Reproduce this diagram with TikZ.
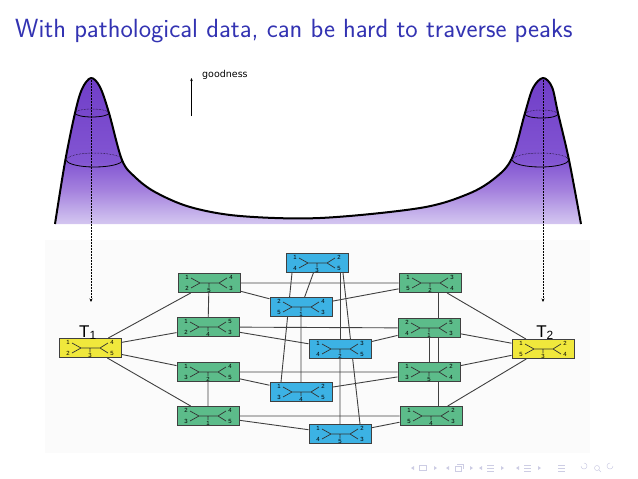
\documentclass[tikz,border=0pt]{standalone}
\usepackage{fontspec}
\newfontfamily\goodfont{DejaVu Sans}
\newfontfamily\treefont{Liberation Sans}
\usetikzlibrary{arrows.meta, backgrounds}

\definecolor{titleblue}{RGB}{51,51,178}
\definecolor{peaktop}{RGB}{112,62,200}
\definecolor{peakmid}{RGB}{130,85,210}
\definecolor{peaklow}{RGB}{165,130,222}
\definecolor{peakfoot}{RGB}{200,182,236}
\definecolor{peakbot}{RGB}{212,198,240}
\definecolor{treegreen}{RGB}{92,188,138}
\definecolor{treeblue}{RGB}{60,178,228}
\definecolor{treeyellow}{RGB}{240,232,60}
\definecolor{navgray}{RGB}{205,205,228}

\pgfdeclareverticalshading{purplehill}{100bp}{color(0bp)=(peakbot); color(25bp)=(peakbot); color(28bp)=(peakfoot); color(36.5bp)=(peaklow); color(46.5bp)=(peakmid); color(75bp)=(peaktop); color(100bp)=(peaktop)}

\tikzset{
  treebox/.style = {rectangle, draw=black!75, line width=1pt, minimum width=62pt, minimum height=19pt, inner sep=0pt},
  link/.style = {draw=black!75, line width=0.9pt},
  leaf/.style = {inner sep=0pt, font=\treefont\fontsize{6}{6}\selectfont},
  tlabel/.style = {inner sep=0pt, font=\treefont\fontsize{17}{17}\selectfont},
  ridge/.style = {line width=2pt, line join=round},
  drop/.style = {densely dotted, line width=0.5pt, -{Stealth[length=3.5pt, width=3pt]}},
}

% little unrooted tree drawn inside a box: box, top left, bottom left, middle, top right, bottom right
\newcommand{\phylo}[6]{%
  \begin{scope}[shift={(#1.center)}]
    \draw[line width=0.7pt, black!80] (-18,-5) -- (-9,0) -- (-18,5) (-9,0) -- (10,0) (18,-5) -- (10,0) -- (18,5) (0,0) -- (0,4);
    \node[leaf] at (-22,-5.5) {#2};
    \node[leaf] at (-22,5.5) {#3};
    \node[leaf] at (0,7) {#4};
    \node[leaf] at (22,-5.5) {#5};
    \node[leaf] at (22,5.5) {#6};
  \end{scope}}

\begin{document}
\begin{tikzpicture}[x=1pt, y=-1pt]
\useasboundingbox (0,0) rectangle (638,479);

\node[anchor=base west, inner sep=0pt, text=titleblue, font=\sffamily\fontsize{26.3}{31}\selectfont] (title) at (15,37) {With pathological data, can be hard to traverse peaks};

% landscape
\draw[ridge, shading=purplehill] plot[smooth, tension=0.55] coordinates {(55,224) (65,162) (75,113) (82,89) (91,78) (100,87) (109,113) (122,160) (135,177) (155,192) (190,207) (240,216) (320,218) (420,208) (468,194) (495,178) (512,158) (525,113) (533,88) (543,78) (552,87) (558,113) (569,160) (581,224)};

\draw[densely dotted, line width=0.5pt] (109,113) arc[start angle=0, end angle=-180, x radius=17, y radius=4];
\draw[line width=0.8pt] (109,113) arc[start angle=0, end angle=180, x radius=17, y radius=4];
\draw[densely dotted, line width=0.5pt] (122.5,160) arc[start angle=0, end angle=-180, x radius=28, y radius=7];
\draw[line width=0.8pt] (122.5,160) arc[start angle=0, end angle=180, x radius=28, y radius=7];
\draw[densely dotted, line width=0.5pt] (558,114) arc[start angle=0, end angle=-180, x radius=16.5, y radius=4];
\draw[line width=0.8pt] (558,114) arc[start angle=0, end angle=180, x radius=16.5, y radius=4];
\draw[densely dotted, line width=0.5pt] (568.5,160) arc[start angle=0, end angle=-180, x radius=28, y radius=7];
\draw[line width=0.8pt] (568.5,160) arc[start angle=0, end angle=180, x radius=28, y radius=7];

\coordinate (peakL) at (91,78);
\coordinate (dropL) at (91,302);
\coordinate (peakR) at (543,78);
\coordinate (dropR) at (543,302);
\draw[drop] (peakL) -- (dropL);
\draw[drop] (peakR) -- (dropR);

\node[anchor=west, inner sep=0pt, font=\goodfont\fontsize{9.5}{10}\selectfont] (good) at (202,75) {goodness};
\coordinate (goodfoot) at (191.5,116);
\coordinate (goodtip) at (191.5,78);
\draw[line width=0.6pt, -{Stealth[length=3pt, width=2.5pt]}] (goodfoot) -- (goodtip);

% graph of trees
\node[treebox, fill=treeyellow] (t1) at (90,348) {};
\node[treebox, fill=treegreen] (l1) at (209,283) {};
\node[treebox, fill=treegreen] (l2) at (208,327) {};
\node[treebox, fill=treegreen] (l3) at (208,372) {};
\node[treebox, fill=treegreen] (l4) at (208,416) {};
\node[treebox, fill=treeblue] (m1) at (317,263) {};
\node[treebox, fill=treeblue] (m2) at (301,307) {};
\node[treebox, fill=treeblue] (m3) at (340,349) {};
\node[treebox, fill=treeblue] (m4) at (301,392) {};
\node[treebox, fill=treeblue] (m5) at (340,434) {};
\node[treebox, fill=treegreen] (r1) at (430,283) {};
\node[treebox, fill=treegreen] (r2) at (429,328) {};
\node[treebox, fill=treegreen] (r3) at (429,372) {};
\node[treebox, fill=treegreen] (r4) at (431,416) {};
\node[treebox, fill=treeyellow] (t2) at (543,349) {};

\node[tlabel, anchor=base] (t1lab) at (88,337) {T\textsubscript{1}};
\node[tlabel, anchor=base] (t2lab) at (545,337) {T\textsubscript{2}};

\phylo{t1}{1}{2}{3}{4}{5}
\phylo{l1}{1}{2}{5}{4}{3}
\phylo{l2}{1}{2}{4}{5}{3}
\phylo{l3}{1}{3}{2}{4}{5}
\phylo{l4}{2}{3}{1}{4}{5}
\phylo{m1}{1}{4}{3}{2}{5}
\phylo{m2}{2}{5}{1}{4}{3}
\phylo{m3}{1}{4}{2}{3}{5}
\phylo{m4}{1}{3}{4}{2}{5}
\phylo{m5}{1}{4}{5}{2}{3}
\phylo{r1}{1}{5}{2}{3}{4}
\phylo{r2}{2}{4}{1}{5}{3}
\phylo{r3}{1}{3}{5}{2}{4}
\phylo{r4}{1}{5}{4}{2}{3}
\phylo{t2}{1}{5}{3}{2}{4}

\begin{scope}[on background layer]
  \fill[black!1.5] (45,240) rectangle (590,453);
  \draw[link] (t1) -- (l1) (t1) -- (l2) (t1) -- (l3) (t1) -- (l4);
  \draw[link] (l1) -- (l2) (l3) -- (l4);
  \draw[link] (l1) -- (r1) (l2) -- (r2) (l3) -- (r3) (l4) -- (r4);
  \draw[link] (l1) -- (m2) (l2) -- (m3) (l3) -- (m4) (l4) -- (m5);
  \draw[link] (m1) -- (m2) (m2) -- (m4) (m3) -- (m5);
  \draw[link] ([xshift=-25pt]m1.south) -- ([xshift=-20pt]m4.north);
  \draw[link] ([xshift=23pt]m1.south) -- (m3.north);
  \draw[link] ([xshift=26pt]m1.south) -- ([xshift=20pt]m5.north);
  \draw[link] (m2) -- (r1) (m3) -- (r2) (m4) -- (r3) (m5) -- (r4);
  \draw[link] (r2) -- (r3);
  \draw[link] ([xshift=8pt]r1.south) -- ([xshift=7pt]r4.north);
  \draw[link] (r1) -- (t2) (r2) -- (t2) (r3) -- (t2) (r4) -- (t2);
\end{scope}

% navigation symbols
\begin{scope}[navgray, line width=0.5pt]
  \fill (411,468) -- (414,466) -- (414,470) -- cycle;
  \draw (419,465.5) rectangle (426,470.5);
  \fill (437,468) -- (434,466) -- (434,470) -- cycle;
  \fill (446,468) -- (449,466) -- (449,470) -- cycle;
  \draw (455,466) rectangle (461,471) (457,464) -- (463,464) -- (463,469);
  \fill (473,468) -- (470,466) -- (470,470) -- cycle;
  \fill (479,468) -- (482,466) -- (482,470) -- cycle;
  \draw (487,465) -- (494,465) (487,468) -- (494,468) (487,471) -- (494,471);
  \fill (504,468) -- (501,466) -- (501,470) -- cycle;
  \fill (516,468) -- (519,466) -- (519,470) -- cycle;
  \draw (524,465) -- (531,465) (524,468) -- (531,468) (524,471) -- (531,471);
  \fill (541,468) -- (538,466) -- (538,470) -- cycle;
  \draw (558,465) -- (565,465) (558,468) -- (565,468) (558,471) -- (565,471);
  \draw (581,466) arc[start angle=180, end angle=-90, radius=3];
  \draw (597,468) circle[radius=2.5] (599,470) -- (601,472);
  \draw (613,466) arc[start angle=0, end angle=270, radius=3];
\end{scope}

\end{tikzpicture}
\end{document}
